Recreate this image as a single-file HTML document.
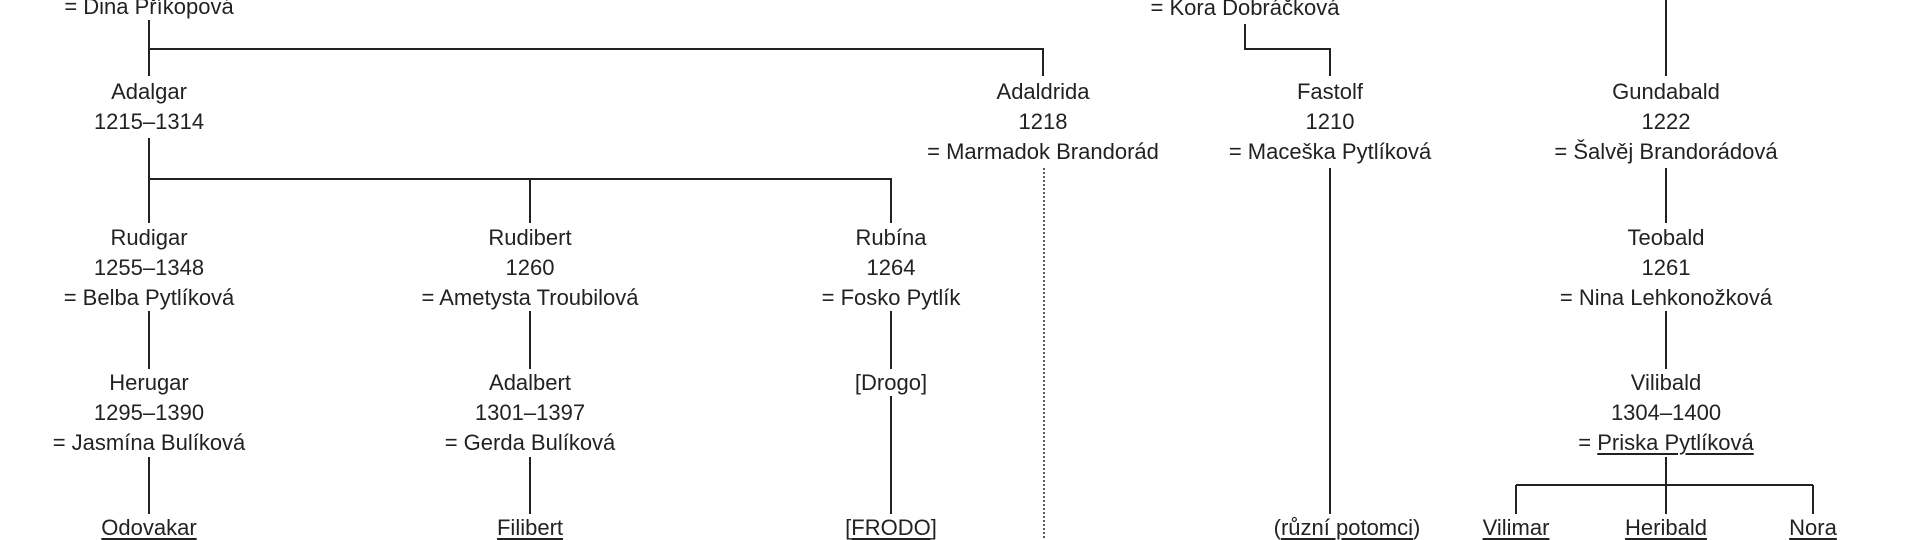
<!DOCTYPE html>
<html><head><meta charset="utf-8"><style>
html,body{margin:0;padding:0;background:#fff;}
#c{position:relative;width:1920px;height:540px;overflow:hidden;background:#fff;}
svg{position:absolute;left:0;top:0;}
.t{position:absolute;transform:translate(-50%,-50%);white-space:nowrap;font-family:"Liberation Sans",sans-serif;font-size:22px;color:#222;line-height:30px;text-align:center;}
u{text-decoration-thickness:1.5px;text-underline-offset:3px;}
</style></head><body><div id="c">
<svg width="1920" height="540" stroke="#222" stroke-width="2" fill="none">
<path d="M149 20V76M149 49H1043V76"/>
<path d="M149 138V223M149 179H891V223M530 179V223"/>
<path d="M149 311V369M149 457V514"/>
<path d="M530 311V369M530 457V514"/>
<path d="M891 311V369M891 396V514"/>
<path d="M1044 168V540" stroke-dasharray="2,2" stroke-width="1.5"/>
<path d="M1245 24V49H1330V76M1330 168V514"/>
<path d="M1666 0V76M1666 168V223M1666 311V369M1666 457V514M1516 485H1813M1516 485V514M1813 485V514"/>
</svg>
<div class="t" style="left:149px;top:7px">= Dina Příkopová</div>
<div class="t" style="left:1245px;top:8px">= Kora Dobráčková</div>
<div class="t" style="left:149px;top:107px">Adalgar<br>1215–1314</div>
<div class="t" style="left:1043px;top:122px">Adaldrida<br>1218<br>= Marmadok Brandorád</div>
<div class="t" style="left:1330px;top:122px">Fastolf<br>1210<br>= Maceška Pytlíková</div>
<div class="t" style="left:1666px;top:122px">Gundabald<br>1222<br>= Šalvěj Brandorádová</div>
<div class="t" style="left:149px;top:268px">Rudigar<br>1255–1348<br>= Belba Pytlíková</div>
<div class="t" style="left:530px;top:268px">Rudibert<br>1260<br>= Ametysta Troubilová</div>
<div class="t" style="left:891px;top:268px">Rubína<br>1264<br>= Fosko Pytlík</div>
<div class="t" style="left:1666px;top:268px">Teobald<br>1261<br>= Nina Lehkonožková</div>
<div class="t" style="left:149px;top:413px">Herugar<br>1295–1390<br>= Jasmína Bulíková</div>
<div class="t" style="left:530px;top:413px">Adalbert<br>1301–1397<br>= Gerda Bulíková</div>
<div class="t" style="left:891px;top:383px">[Drogo]</div>
<div class="t" style="left:1666px;top:413px">Vilibald<br>1304–1400<br>= <u>Priska Pytlíková</u></div>
<div class="t" style="left:149px;top:528px"><u>Odovakar</u></div>
<div class="t" style="left:530px;top:528px"><u>Filibert</u></div>
<div class="t" style="left:891px;top:528px">[<u>FRODO</u>]</div>
<div class="t" style="left:1347px;top:528px">(<u>různí potomci</u>)</div>
<div class="t" style="left:1516px;top:528px"><u>Vilimar</u></div>
<div class="t" style="left:1666px;top:528px"><u>Heribald</u></div>
<div class="t" style="left:1813px;top:528px"><u>Nora</u></div>
</div></body></html>
